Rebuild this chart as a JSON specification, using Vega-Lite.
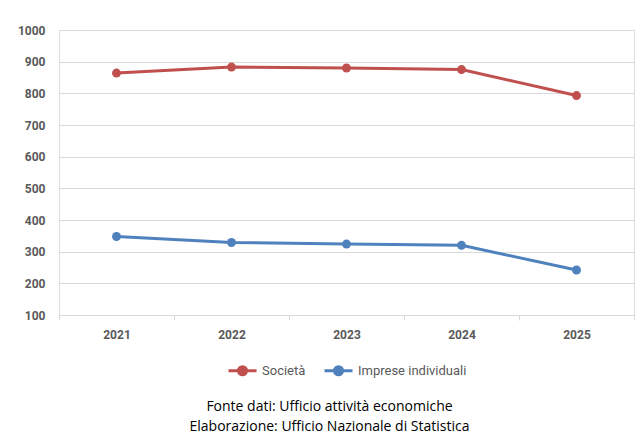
{
  "$schema": "https://vega.github.io/schema/vega-lite/v6.json",
  "autosize": {"type": "none"},
  "width": 575,
  "height": 285,
  "padding": {"left": 59, "top": 30, "right": 7, "bottom": 120},
  "background": "white",
  "config": {
    "legend": {"layout": {"bottom": {"anchor": "middle"}}}
  },
  "title": {
    "text": ["Fonte dati: Ufficio attività economiche", "Elaborazione: Ufficio Nazionale di Statistica"],
    "orient": "bottom",
    "anchor": "middle",
    "dx": -17,
    "font": "Open Sans",
    "fontSize": 14,
    "fontWeight": "normal",
    "color": "#000000",
    "lineHeight": 20,
    "offset": 19
  },
  "data": {
    "values": [
      {"anno": "2021", "serie": "Società", "valore": 864},
      {"anno": "2022", "serie": "Società", "valore": 883},
      {"anno": "2023", "serie": "Società", "valore": 880},
      {"anno": "2024", "serie": "Società", "valore": 875},
      {"anno": "2025", "serie": "Società", "valore": 793},
      {"anno": "2021", "serie": "Imprese individuali", "valore": 348},
      {"anno": "2022", "serie": "Imprese individuali", "valore": 329},
      {"anno": "2023", "serie": "Imprese individuali", "valore": 324},
      {"anno": "2024", "serie": "Imprese individuali", "valore": 320},
      {"anno": "2025", "serie": "Imprese individuali", "valore": 242}
    ]
  },
  "encoding": {
    "x": {
      "field": "anno", "type": "ordinal", "title": null,
      "scale": {"paddingInner": 0, "paddingOuter": 0},
      "axis": {"labelAngle": 0, "tickBand": "extent", "domainColor": "#d9d9d9", "tickColor": "#d9d9d9", "tickSize": 5, "labelPadding": 9,
               "labelFont": "Roboto", "labelFontWeight": "bold", "labelFontSize": 12, "labelColor": "#595959"}
    },
    "y": {
      "field": "valore", "type": "quantitative", "title": null,
      "scale": {"domain": [100, 1000], "nice": false, "zero": false},
      "axis": {"values": [100, 200, 300, 400, 500, 600, 700, 800, 900, 1000], "format": "d", "domain": false, "ticks": false, "gridColor": "#d9d9d9", "labelPadding": 14,
               "labelFont": "Roboto", "labelFontWeight": "bold", "labelFontSize": 12, "labelColor": "#595959"}
    },
    "color": {
      "field": "serie", "type": "nominal", "title": null,
      "scale": {"domain": ["Società", "Imprese individuali"], "range": ["#C0504D", "#4F81BD"]},
      "legend": {"orient": "bottom", "direction": "horizontal", "offset": 15,
                 "symbolType": "M -1 0 L 1 0 M 0.29 0 A 0.29 0.29 0 1 1 -0.29 0 A 0.29 0.29 0 1 1 0.29 0 Z",
                 "symbolSize": 784, "symbolStrokeWidth": 3,
                 "labelFont": "Roboto", "labelFontSize": 13, "labelColor": "#595959", "columnPadding": 12, "labelOffset": 4}
    }
  },
  "layer": [
    {"mark": {"type": "line", "strokeWidth": 3}},
    {"mark": {"type": "point", "filled": true, "size": 80, "opacity": 1}}
  ]
}
